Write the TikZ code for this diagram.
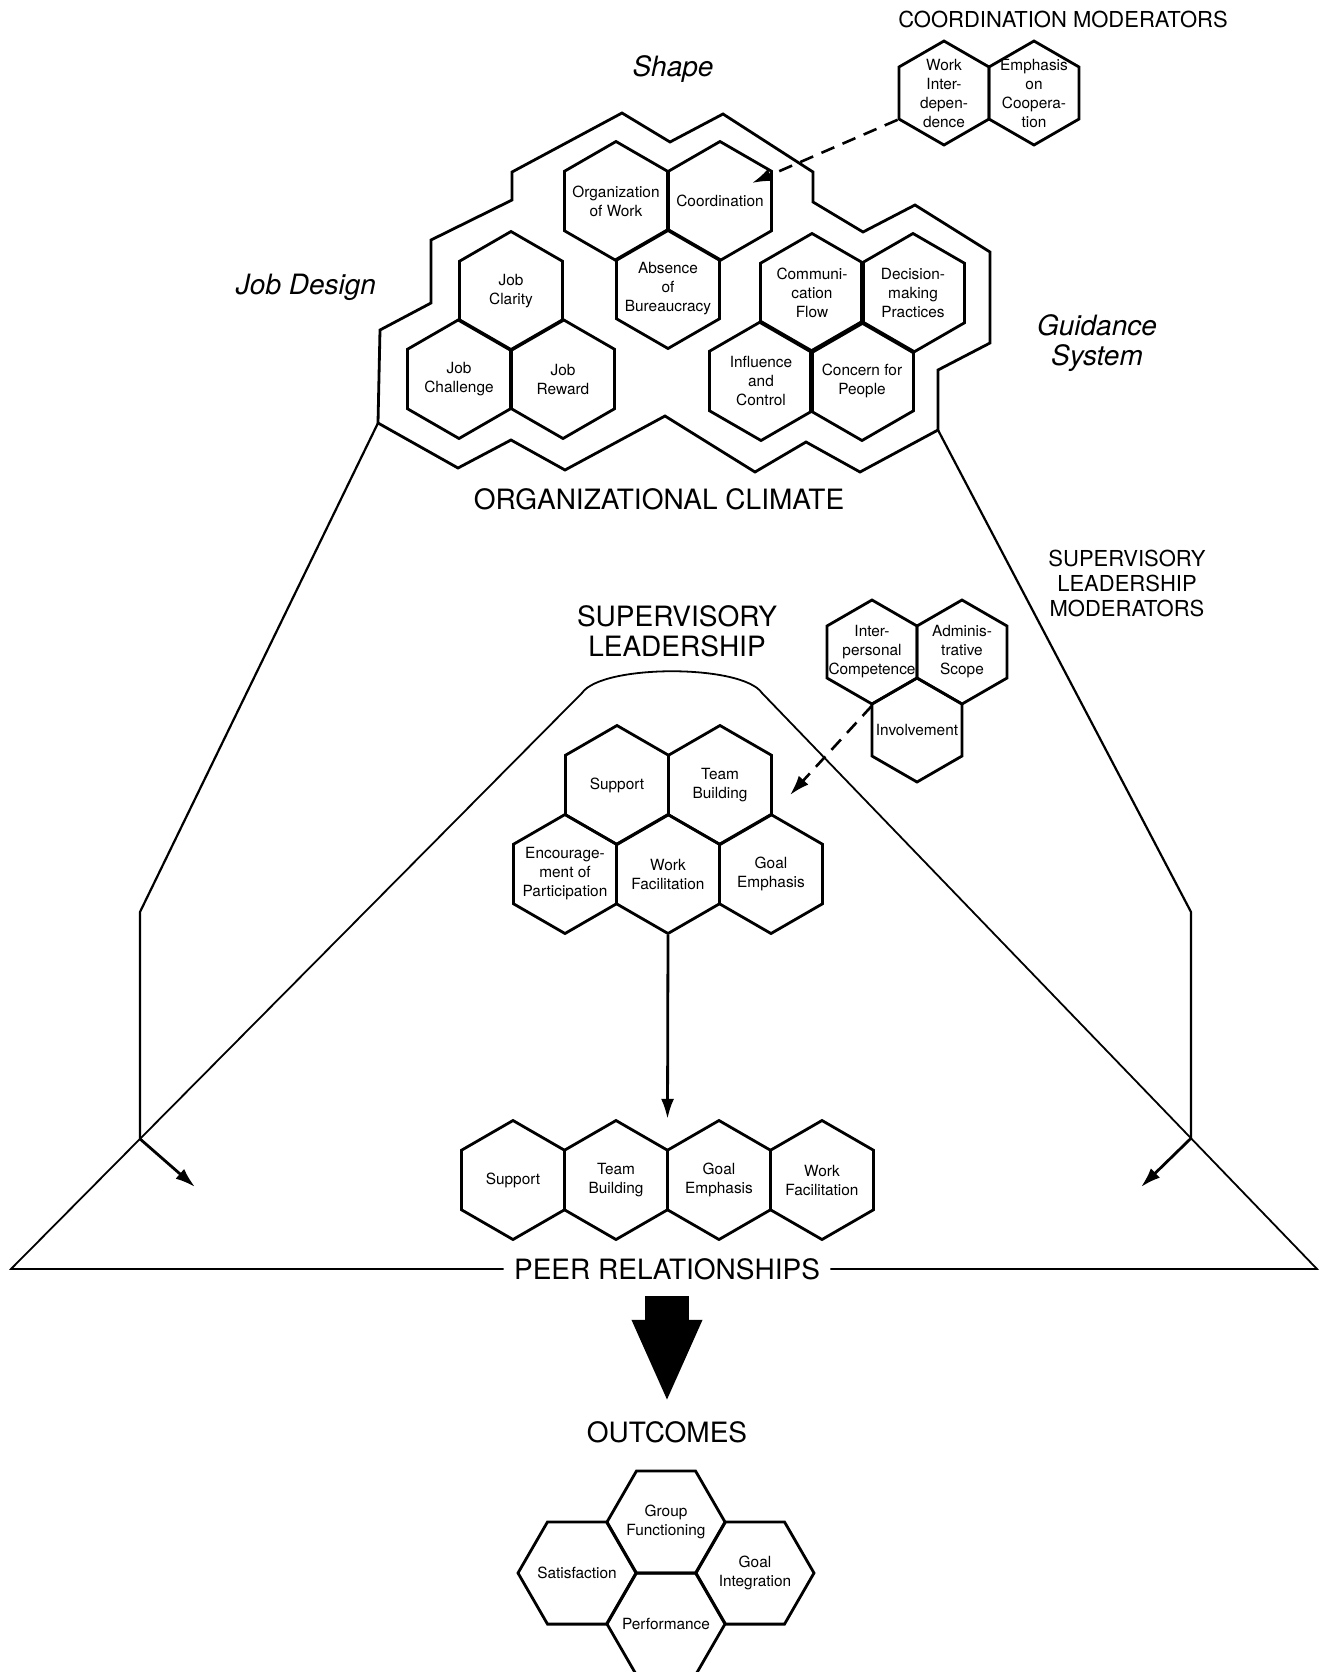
\documentclass[tikz,border=0pt]{standalone}
\usepackage{fontspec}
\setmainfont{TeX Gyre Heros}
\usetikzlibrary{shapes.geometric}
\usetikzlibrary{arrows.meta}
\usetikzlibrary{calc}

\tikzset{
  hexv/.style={draw, line width=1.4pt, regular polygon, regular polygon sides=6,
               shape border rotate=30, minimum size=59.5pt, inner sep=0pt},
  hexs/.style={hexv, minimum size=52pt},
  hexf/.style={hexv, shape border rotate=0, minimum size=59pt},
  hextxt/.style={align=center, inner sep=0pt, font=\fontsize{7.7}{9.5}\selectfont},
  bigtxt/.style={align=center, inner sep=2pt, font=\fontsize{14}{15}\selectfont},
  modtxt/.style={align=center, inner sep=2pt, font=\fontsize{11}{12.5}\selectfont},
  areatxt/.style={align=center, inner sep=2pt, font=\fontsize{14}{15}\selectfont\itshape},
  thinline/.style={line width=0.9pt},
  trapline/.style={line width=1.1pt},
  solidarr/.style={line width=1.4pt, -{Latex[length=10pt,width=6.5pt]}},
  dasharr/.style={line width=1.3pt, dash pattern=on 7pt off 4.5pt, -{Latex[length=10pt,width=6.5pt]}}
}

% one hexagon cell: style, x, y, name, text
\newcommand\hexcell[5]{%
  \node[#1] (#4) at (#2,#3) {};
  \node[hextxt] (#4-t) at (#4) {#5};}

\begin{document}
\begin{tikzpicture}[x=0.5pt, y=-0.5pt]
  \useasboundingbox (0,0) rectangle (1321,1672);
  \clip (0,0) rectangle (1321,1672);

 %organizational climate
  \draw[line width=1.4pt] (378,423) coordinate (climL) -- (380,330) -- (431,303) -- (431,240) -- (512,200) -- (512,172)
        -- (622,113) -- (670,142) -- (723,114) -- (813,172) -- (813,202) -- (863,232) -- (915,205)
        -- (990,252) -- (990,343) -- (938,370) -- (938,430) coordinate (climR) -- (860,472) -- (806,442)
        -- (755,472) -- (665,416) -- (565,470) -- (511,440) -- (458,468) -- cycle;

  \hexcell{hexv}{616}{201}{orgwork}{Organization\\of Work}
  \hexcell{hexv}{720}{201}{coord}{Coordination}
  \hexcell{hexv}{668}{289}{absence}{Absence\\of\\Bureaucracy}
  \hexcell{hexv}{511}{291}{jobclar}{Job\\Clarity}
  \hexcell{hexv}{459}{379}{jobchal}{Job\\Challenge}
  \hexcell{hexv}{563}{379}{jobrew}{Job\\Reward}
  \hexcell{hexv}{812}{293}{comm}{Communi-\\cation\\Flow}
  \hexcell{hexv}{913}{293}{decis}{Decision-\\making\\Practices}
  \hexcell{hexv}{761}{381}{influ}{Influence\\and\\Control}
  \hexcell{hexv}{862}{381}{concern}{Concern for\\People}

  \node[areatxt] (shapelbl) at (673,69) {Shape};
  \node[areatxt] (jobdlbl) at (306,287) {Job Design};
  \node[areatxt] (guidlbl) at (1097,343) {Guidance\\System};
  \node[bigtxt] (climlbl) at (659,499) {ORGANIZATIONAL CLIMATE};

 %coordination moderators
  \node[modtxt] (coordmodlbl) at (1063,19) {COORDINATION MODERATORS};
  \hexcell{hexs}{944}{93}{workint}{Work\\Inter-\\depen-\\dence}
  \hexcell{hexs}{1034}{93}{coopemph}{Emphasis\\on\\Coopera-\\tion}
  \coordinate (coordtip) at (752,183);
  \draw[dasharr] (workint.210) -- (coordtip);

 %triangle and peer line
  \node[bigtxt, inner sep=5pt] (peerlbl) at (667,1269) {PEER RELATIONSHIPS};
  \coordinate (baseL) at (11,1269);
  \coordinate (baseR) at (1317,1269);
  \coordinate (archL) at (582,693);
  \coordinate (archR) at (762,693);
  \draw[thinline] (peerlbl.west) -- (baseL) -- (archL) .. controls (602,664) and (742,664) .. (archR) -- (baseR) -- (peerlbl.east);

 %trapezoid from climate down to peers
  \coordinate (jl) at ($(baseL)!.2259!(archL)$);
  \coordinate (jr) at ($(archR)!.773!(baseR)$);
  \coordinate (arrL) at (195,1187);
  \coordinate (arrR) at (1141,1187);
  \draw[trapline] (climL) -- (jl |- 0,912) -- (jl);
  \draw[trapline] (climR) -- (jr |- 0,912) -- (jr);
  \draw[solidarr] (jl) -- (arrL);
  \draw[solidarr] (jr) -- (arrR);

 %supervisory leadership
  \node[bigtxt] (sllbl) at (677,631) {SUPERVISORY\\LEADERSHIP};
  \hexcell{hexv}{617}{785}{support}{Support}
  \hexcell{hexv}{720}{785}{teambld}{Team\\Building}
  \hexcell{hexv}{565}{874}{encour}{Encourage-\\ment of\\Participation}
  \hexcell{hexv}{668}{874}{workfac}{Work\\Facilitation}
  \hexcell{hexv}{771}{874}{goalemph}{Goal\\Emphasis}

 %supervisory leadership moderators
  \node[modtxt] (slmodlbl) at (1127,583) {SUPERVISORY\\LEADERSHIP\\MODERATORS};
  \hexcell{hexs}{872}{652}{interpers}{Inter-\\personal\\Competence}
  \hexcell{hexs}{962}{652}{adminscope}{Adminis-\\trative\\Scope}
  \hexcell{hexs}{917}{730}{involve}{Involvement}
  \coordinate (sltip) at (790,795);
  \draw[dasharr] (interpers.south) -- (sltip);

 %peer relationships
  \hexcell{hexv}{513}{1180}{psupport}{Support}
  \hexcell{hexv}{616}{1180}{pteam}{Team\\Building}
  \hexcell{hexv}{719}{1180}{pgoal}{Goal\\Emphasis}
  \hexcell{hexv}{822}{1180}{pwork}{Work\\Facilitation}
  \draw[solidarr] (workfac.south) -- ($(pteam.north)!.5!(pgoal.north)$);

 %outcomes
  \node[bigtxt] (outlbl) at (667,1432) {OUTCOMES};
  \draw[line width=22pt, -{Triangle[length=41.5pt,width=32pt]}, shorten <=3pt, shorten >=7pt]
      (peerlbl.south) -- (peerlbl.south |- outlbl.north);
  \hexcell{hexf}{666}{1522}{grpfunc}{Group\\Functioning}
  \hexcell{hexf}{577}{1573}{satis}{Satisfaction}
  \hexcell{hexf}{755}{1573}{goalint}{Goal\\Integration}
  \hexcell{hexf}{666}{1624}{perform}{Performance}
\end{tikzpicture}
\end{document}
